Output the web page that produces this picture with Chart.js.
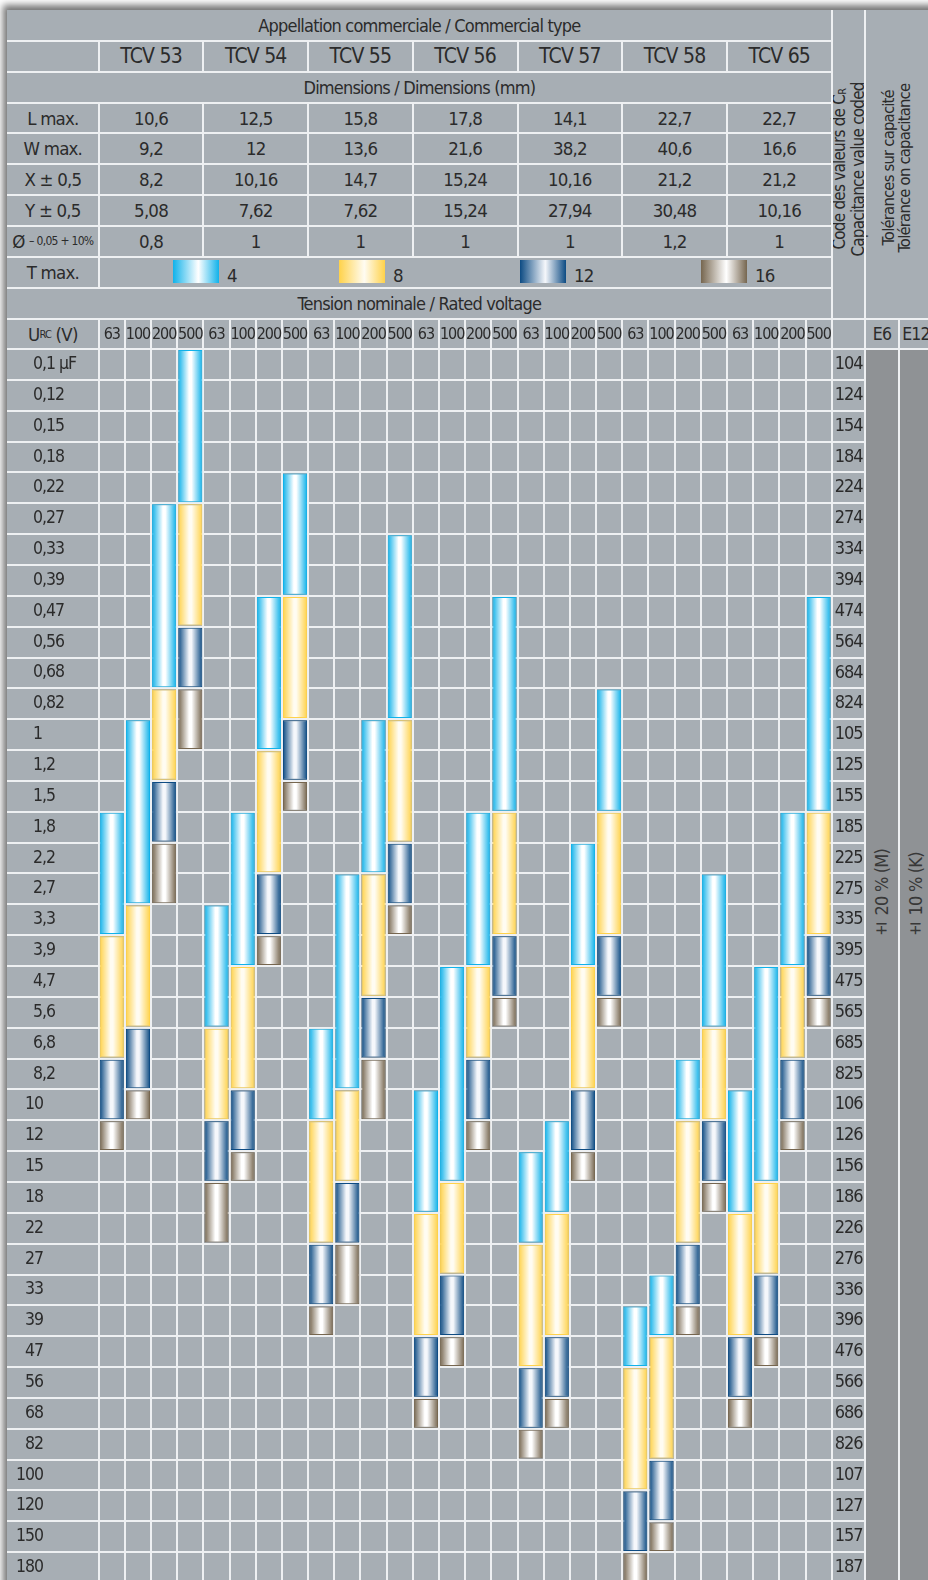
<!DOCTYPE html>
<html>
<head>
<meta charset="utf-8">
<script src="https://cdn.jsdelivr.net/npm/chart.js@4.4.1/dist/chart.umd.min.js"></script>
<style>
  html, body { margin: 0; padding: 0; background: #fff; overflow: hidden; }
  body { width: 928px; height: 1580px; position: relative; font-family: 'Liberation Sans Narrow', 'DejaVu Sans Condensed', sans-serif; color: #2b2b2b; letter-spacing: -0.8px; }
  #panel { position: absolute; left: 7px; top: 10px; width: 940px; height: 1600px; background: #a7aeb4; box-shadow: -4px -5px 7px rgba(0,0,0,0.55); }
  .ln { position: absolute; background: #eef0f2; }
  .cell { position: absolute; display: flex; align-items: center; justify-content: center; white-space: nowrap; }
  .dark { position: absolute; background: #8f9295; }
  .vert { position: absolute; writing-mode: vertical-rl; transform: rotate(180deg); white-space: nowrap; box-sizing: border-box; }
  .swatch { position: absolute; width: 46px; height: 23px; }
  #grid { position: absolute; left: 7px; top: 318px; }
</style>
</head>
<body>
<div id="panel"></div>
<div id="head"></div>
<canvas id="grid" width="858" height="1265"></canvas>
<script>
// ---- data ----
const types = ['TCV 53', 'TCV 54', 'TCV 55', 'TCV 56', 'TCV 57', 'TCV 58', 'TCV 65'];
const voltages = ['63', '100', '200', '500'];
const dimLabels = ['L max.', 'W max.', 'X ± 0,5', 'Y ± 0,5', 'Ø'];
const lMax = ['10,6', '12,5', '15,8', '17,8', '14,1', '22,7', '22,7'];
const wMax = ['9,2', '12', '13,6', '21,6', '38,2', '40,6', '16,6'];
const pitchX = ['8,2', '10,16', '14,7', '15,24', '10,16', '21,2', '21,2'];
const pitchY = ['5,08', '7,62', '7,62', '15,24', '27,94', '30,48', '10,16'];
const wireDia = ['0,8', '1', '1', '1', '1', '1,2', '1'];
const thickness = ['4', '8', '12', '16'];
const tolerances = ['± 20 % (M)', '± 10 % (K)'];
const series = ['E6', 'E12'];

const capLabels = ['0,1 µF', '0,12', '0,15', '0,18', '0,22', '0,27', '0,33', '0,39', '0,47', '0,56', '0,68', '0,82',
  '1', '1,2', '1,5', '1,8', '2,2', '2,7', '3,3', '3,9', '4,7', '5,6', '6,8', '8,2',
  '10', '12', '15', '18', '22', '27', '33', '39', '47', '56', '68', '82',
  '100', '120', '150', '180'];
const capCodes = ['104', '124', '154', '184', '224', '274', '334', '394', '474', '564', '684', '824',
  '105', '125', '155', '185', '225', '275', '335', '395', '475', '565', '685', '825',
  '106', '126', '156', '186', '226', '276', '336', '396', '476', '566', '686', '826',
  '107', '127', '157', '187'];

// first / last capacitance row for each type+voltage column (4 per type)
const rangesT4 = [[15,18],[12,17],[5,10],[0,4], [18,21],[15,19],[8,12],[4,7], [22,24],[17,23],[12,16],[6,11],
  [24,27],[20,26],[15,19],[8,14], [26,28],[25,27],[16,19],[11,14], [31,32],[30,31],[23,24],[17,21], [24,27],[20,26],[15,19],[8,14]];
const rangesT8 = [[19,22],[18,21],[11,13],[5,8], [22,24],[20,23],[13,16],[8,11], [25,28],[24,26],[17,20],[12,15],
  [28,31],[27,29],[20,22],[15,18], [29,32],[28,31],[20,23],[15,18], [33,36],[32,35],[25,28],[22,24], [28,31],[27,29],[20,22],[15,18]];
const rangesT12 = [[23,24],[22,23],[14,15],[9,10], [25,26],[24,25],[17,18],[12,13], [29,30],[27,28],[21,22],[16,17],
  [32,33],[30,31],[23,24],[19,20], [33,34],[32,33],[24,25],[19,20], [37,38],[36,37],[29,30],[25,26], [32,33],[30,31],[23,24],[19,20]];
const rangesT16 = [[25,25],[24,24],[16,17],[11,12], [27,28],[26,26],[19,19],[14,14], [31,31],[29,30],[23,24],[18,18],
  [34,34],[32,32],[25,25],[21,21], [35,35],[34,34],[26,26],[21,21], [39,39],[38,38],[31,31],[27,27], [34,34],[32,32],[25,25],[21,21]];

// ---- layout ----
const R = 30.86, TOP = 10, LEFT = 7, LABEL_R = 98.7, GROUP_W = 104.7;
const CODE_L = 831.7, CODE_R = 865, E_MID = 899, E_R = 933;
const rowY = k => TOP + k * R;
const lineColor = '#eef0f2';
const tones = [
  { edge: '#10b2ea', mid: '#ffffff' },
  { edge: '#ffd24a', mid: '#fffcf2' },
  { edge: '#0d4b83', mid: '#f5f7fb' },
  { edge: '#76664f', mid: '#ffffff' }
];

const head = document.getElementById('head');

const add = (cls, x, y, w, h, html, css) => {
  const d = document.createElement('div');
  d.className = cls;
  Object.assign(d.style, { left: x + 'px', top: y + 'px', width: w + 'px', height: h + 'px' }, css || {});
  if (html) d.innerHTML = html;
  head.appendChild(d);
  return d;
};
const hline = (y, x0, x1) => add('ln', x0, y - 1, x1 - x0, 2);
const vline = (x, y0, y1) => add('ln', x - 1, y0, 2, y1 - y0);
const cell = (x, y, w, h, html, size) => add('cell', x, y, w, h, html, { fontSize: size + 'px' });

// tolerance columns
add('dark', CODE_R, rowY(11), E_R - CODE_R + 10, 1600 - rowY(11));

// header rows
cell(LEFT, rowY(0), CODE_L - LEFT, R, 'Appellation commerciale / Commercial type', 18);
types.forEach((t, j) => cell(LABEL_R + j * GROUP_W, rowY(1), GROUP_W, R, t, 21));
cell(LEFT, rowY(2), CODE_L - LEFT, R, 'Dimensions / Dimensions (mm)', 18);

const dimRows = [lMax, wMax, pitchX, pitchY, wireDia];
dimRows.forEach((vals, i) => {
  const y = rowY(3 + i);
  const label = i === 4 ? 'Ø&nbsp;<span style="font-size:12px;letter-spacing:-0.7px">– 0,05 + 10%</span>' : dimLabels[i];
  cell(LEFT, y, LABEL_R - LEFT, R, label, 18.5);
  vals.forEach((v, j) => cell(LABEL_R + j * GROUP_W, y, GROUP_W, R, v, 18.5));
});

cell(LEFT, rowY(8), LABEL_R - LEFT, R, 'T max.', 18.5);
const swatchX = [173, 339, 520, 701];
thickness.forEach((t, i) => {
  const tn = tones[i];
  add('swatch', swatchX[i], 260, 46, 23, '', {
    background: `linear-gradient(to right, ${tn.edge} 0%, ${tn.mid} 55%, ${tn.edge} 100%)`
  });
  add('cell', swatchX[i] + 54, rowY(8) + 3, 30, R, t, { fontSize: '18.5px', justifyContent: 'flex-start' });
});

cell(LEFT, rowY(9), CODE_L - LEFT, R, 'Tension nominale / Rated voltage', 18);
cell(LEFT, rowY(10), LABEL_R - LEFT, R, 'U<sub style="font-size:11px">RC</sub>&nbsp;(V)', 18.5);
series.forEach((s, i) => cell(CODE_R + i * (E_MID - CODE_R), rowY(10), E_MID - CODE_R, R, s, 17.5));

// rotated headers on the right
add('vert', CODE_L, TOP, CODE_R - CODE_L, rowY(10) - TOP,
  'Code des valeurs de C<sub style="font-size:11px">R</sub><br>Capacitance value coded',
  { fontSize: '17px', lineHeight: '15.5px', textAlign: 'center', paddingBottom: '10px' });
add('vert', CODE_R, TOP, E_R - CODE_R, rowY(10) - TOP,
  'Tolérances sur capacité<br>Tolérance on capacitance',
  { fontSize: '16.5px', lineHeight: '16px', textAlign: 'center', paddingBottom: '8px', paddingRight: '16px' });
tolerances.forEach((t, i) => {
  add('vert', CODE_R + i * (E_MID - CODE_R), 560, E_MID - CODE_R, 940 - 560, t,
    { fontSize: '18px', lineHeight: (E_MID - CODE_R) + 'px', textAlign: 'start', color: '#383838' });
});

// header rules
for (let k = 1; k <= 9; k++) hline(rowY(k), LEFT, CODE_L);
hline(rowY(10), LEFT, 940);
hline(rowY(11), CODE_R, 940);
vline(LABEL_R, rowY(1), rowY(2));
vline(LABEL_R, rowY(3), rowY(9));
for (let j = 1; j < types.length; j++) {
  vline(LABEL_R + j * GROUP_W, rowY(1), rowY(2));
  vline(LABEL_R + j * GROUP_W, rowY(3), rowY(8));
}
vline(CODE_L, TOP, rowY(10));
vline(CODE_R, TOP, 1600);
vline(E_MID, rowY(10), 1600);

// ---- chart ----
Chart.defaults.font.family = "'Liberation Sans Narrow', 'DejaVu Sans Condensed', sans-serif";
Chart.defaults.color = '#2b2b2b';

const columns = [];
types.forEach(t => voltages.forEach(v => columns.push(t + ' ' + v)));

const barPct = 0.92;
const segGap = 0.035;

const barFill = (tone) => (c) => {
  const xs = c.chart.scales.x;
  if (!xs || c.dataIndex === undefined) return tone.edge;
  const center = xs.getPixelForValue(c.dataIndex);
  const half = (xs.getPixelForValue(1) - xs.getPixelForValue(0)) * barPct / 2;
  if (!isFinite(center) || !isFinite(half) || half <= 0) return tone.edge;
  const g = c.chart.ctx.createLinearGradient(center - half, 0, center + half, 0);
  g.addColorStop(0, tone.edge);
  g.addColorStop(0.45, tone.mid);
  g.addColorStop(0.55, tone.mid);
  g.addColorStop(1, tone.edge);
  return g;
};

const allRanges = [rangesT4, rangesT8, rangesT12, rangesT16];
const datasets = allRanges.map((ranges, i) => ({
  label: 'T max. ' + thickness[i],
  data: ranges.map(r => [r[0] - 0.5 + segGap, r[1] + 0.5 - segGap]),
  backgroundColor: barFill(tones[i]),
  borderColor: tones[i].edge,
  borderWidth: 1,
  borderSkipped: false,
  grouped: false,
  barPercentage: barPct,
  categoryPercentage: 1
}));

const rowTicks = axis => { axis.ticks = capLabels.map((_, i) => ({ value: i })); };
// whole numbers >= 10 sit right-aligned, the rest left-aligned (as on the sheet)
const isWide = label => label.split(/[ ,]/)[0].length > 1;
const noEdgePad = s => { s.paddingTop = 0; s.paddingBottom = 0; };

// tighter letter spacing so the tick text looks condensed like the sheet
const condensed = {
  id: 'condensed',
  beforeDraw: chart => { chart.ctx.letterSpacing = '-1px'; }
};

const OUTER_W = 37;   // outer strip holding the right-aligned whole numbers

new Chart(document.getElementById('grid'), {
  type: 'bar',
  data: { labels: columns, datasets },
  plugins: [condensed],
  options: {
    responsive: false,
    animation: false,
    layout: { padding: 0 },
    plugins: { legend: { display: false }, tooltip: { enabled: false } },
    scales: {
      x: {
        position: 'top',
        offset: true,
        grid: { color: lineColor, lineWidth: 2, tickLength: 31, offset: true },
        border: { display: false },
        ticks: {
          autoSkip: false, maxRotation: 0, padding: -26,
          font: { size: 16 },
          callback: (v, i) => voltages[i % voltages.length]
        },
        afterFit: s => { s.height = 31; }
      },
      y: {
        type: 'linear',
        position: 'left',
        weight: 0,
        reverse: true,
        min: -0.5,
        max: capLabels.length - 0.5,
        afterBuildTicks: rowTicks,
        grid: { color: lineColor, lineWidth: 2, tickLength: LABEL_R - LEFT, offset: true },
        border: { display: false },
        ticks: {
          autoSkip: false, mirror: true, crossAlign: 'near',
          padding: -(LABEL_R - LEFT - 26),
          font: { size: 17.5 },
          callback: v => isWide(capLabels[v]) ? '' : capLabels[v]
        },
        afterFit: s => { s.width = LABEL_R - LEFT - OUTER_W; noEdgePad(s); }
      },
      yWide: {
        type: 'linear',
        position: 'left',
        weight: 1,
        reverse: true,
        min: -0.5,
        max: capLabels.length - 0.5,
        afterBuildTicks: rowTicks,
        grid: { display: false, drawTicks: false },
        border: { display: false },
        ticks: {
          autoSkip: false, crossAlign: 'near', padding: OUTER_W - 36,
          font: { size: 17.5 },
          callback: v => isWide(capLabels[v]) ? capLabels[v] : ''
        },
        afterFit: s => { s.width = OUTER_W; noEdgePad(s); }
      },
      y2: {
        type: 'linear',
        position: 'right',
        reverse: true,
        min: -0.5,
        max: capLabels.length - 0.5,
        afterBuildTicks: rowTicks,
        grid: { color: lineColor, lineWidth: 2, tickLength: CODE_R - CODE_L, offset: true, drawOnChartArea: false },
        border: { display: false },
        ticks: {
          autoSkip: false, crossAlign: 'near', padding: -(CODE_R - CODE_L) + 3,
          font: { size: 18 },
          callback: v => capCodes[v]
        },
        afterFit: s => { s.width = CODE_R - CODE_L; noEdgePad(s); }
      }
    }
  }
});
</script>
</body>
</html>
